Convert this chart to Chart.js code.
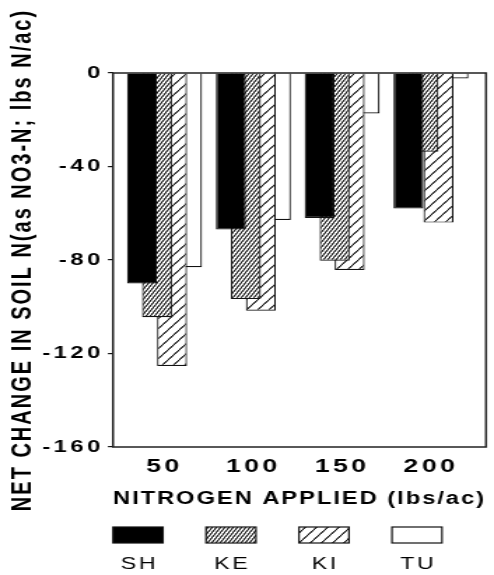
<!DOCTYPE html>
<html>
<head>
<meta charset="utf-8">
<script src="https://cdn.jsdelivr.net/npm/chart.js@4.4.1/dist/chart.umd.min.js"></script>
<style>
html,body{margin:0;padding:0;background:#fff;overflow:hidden;}
#wrap{width:353px;height:575px;transform:scaleX(1.399433);transform-origin:0 0;}
</style>
</head>
<body>
<div id="wrap"><canvas id="c"></canvas></div>
<script>
const categories = [50, 100, 150, 200];
const seriesNames = ['SH', 'KE', 'KI', 'TU'];
const shValues = [-90, -67, -62, -58];
const keValues = [-104.5, -96.7, -80.3, -33.7];
const kiValues = [-125.3, -101.7, -84.3, -64];
const tuValues = [-83.1, -62.9, -17.3, -2.3];
const yTickValues = [0, -40, -80, -120, -160];
const yTitle = 'NET CHANGE IN SOIL N(as NO3-N; lbs N/ac)';
const xTitle = 'NITROGEN APPLIED (lbs/ac)';

const FONT = "'Liberation Sans', Arial, Helvetica, sans-serif";
const SPACING = {'20': 2, '17': 2.5, '19': 2.5, '18': 1.5, '16.5': 2};

const canvas = document.getElementById('c');
const ctx = canvas.getContext('2d');
const fontDesc = Object.getOwnPropertyDescriptor(CanvasRenderingContext2D.prototype, 'font');
Object.defineProperty(ctx, 'font', {
  configurable: true,
  get() { return fontDesc.get.call(this); },
  set(v) {
    fontDesc.set.call(this, v);
    const m = /(\d+(?:\.\d+)?)px/.exec(v);
    const sp = m ? SPACING[m[1]] : 0;
    try { this.letterSpacing = (sp || 0) + 'px'; } catch (e) {}
  }
});

function hatch(w, h, lw) {
  const c = document.createElement('canvas');
  c.width = w; c.height = h;
  const g = c.getContext('2d');
  g.fillStyle = '#fff';
  g.fillRect(0, 0, w, h);
  g.strokeStyle = '#111';
  g.lineWidth = lw;
  for (let k = -1; k <= 1; k++) {
    g.beginPath();
    g.moveTo(k * w, h);
    g.lineTo(k * w + w, 0);
    g.stroke();
    g.beginPath();
    g.moveTo(k * w - w, h);
    g.lineTo(k * w, 0);
    g.stroke();
  }
  return ctx.createPattern(c, 'repeat');
}

const fills = ['#000', hatch(3, 5, 0.9), hatch(8, 10, 1), '#fff'];
const seriesValues = [shValues, keValues, kiValues, tuValues];

const datasets = seriesNames.map((name, i) => ({
  label: name,
  data: categories.map((c, j) => ({x: c, y: seriesValues[i][j]})),
  backgroundColor: fills[i],
  borderColor: '#111',
  borderWidth: 1.2,
  categoryPercentage: 0.6757,
  barPercentage: 2
}));

const boxPlugin = {
  id: 'box',
  afterDatasetsDraw(chart) {
    const {ctx, chartArea: a} = chart;
    ctx.save();
    ctx.strokeStyle = '#222';
    ctx.lineWidth = 1.5;
    ctx.strokeRect(a.left, a.top, a.right - a.left, a.bottom - a.top);
    ctx.restore();
  }
};

const legendPlugin = {
  id: 'boxLegend',
  afterDraw(chart) {
    const {ctx, chartArea: a} = chart;
    const aw = a.right - a.left;
    const step = aw * 0.2493;
    const bw = aw * 0.134;
    const by = a.bottom + 80;
    const bh = 16;
    ctx.save();
    chart.data.datasets.forEach((ds, i) => {
      const x = a.left + i * step;
      ctx.fillStyle = ds.backgroundColor;
      ctx.fillRect(x, by, bw, bh);
      ctx.strokeStyle = '#111';
      ctx.lineWidth = 1.2;
      ctx.strokeRect(x, by, bw, bh);
      ctx.fillStyle = '#000';
      ctx.font = 'normal 16.5px ' + FONT;
      ctx.textAlign = 'center';
      ctx.textBaseline = 'middle';
      ctx.fillText(ds.label, x + bw / 2 + 1, a.bottom + 117);
    });
    ctx.restore();
  }
};

new Chart(ctx, {
  type: 'bar',
  data: {datasets},
  plugins: [boxPlugin, legendPlugin],
  options: {
    responsive: true,
    maintainAspectRatio: false,
    animation: false,
    layout: {padding: {top: 73, bottom: 65, left: 0, right: 5.71}},
    plugins: {legend: {display: false}, tooltip: {enabled: false}},
    scales: {
      x: {
        type: 'linear',
        offset: false,
        min: 21,
        max: 231,
        afterBuildTicks: s => { s.ticks = categories.map(v => ({value: v})); },
        afterFit: s => { s.height = 63; },
        grid: {display: true, offset: false, drawOnChartArea: false, drawTicks: false},
        border: {display: false},
        ticks: {
          color: '#000',
          padding: 8,
          maxRotation: 0,
          autoSkip: false,
          font: {family: FONT, size: 19, weight: 'bold'},
          callback: v => String(v)
        },
        title: {
          display: true,
          text: xTitle,
          color: '#000',
          padding: {top: 0, bottom: 0.5},
          font: {family: FONT, size: 18, weight: 'bold'}
        }
      },
      y: {
        type: 'linear',
        min: -160,
        max: 0,
        afterBuildTicks: s => { s.ticks = yTickValues.map(v => ({value: v})); },
        afterFit: s => { s.width = 80.75; },
        grid: {display: true, drawOnChartArea: false, drawTicks: true, tickLength: 3.6, color: '#111', lineWidth: 1.2},
        border: {display: false},
        ticks: {
          color: '#000',
          padding: 3,
          autoSkip: false,
          font: {family: FONT, size: 17, weight: 'bold'},
          callback: v => String(v)
        },
        title: {
          display: true,
          text: yTitle,
          color: '#000',
          padding: {top: 4.4, bottom: 0},
          font: {family: FONT, size: 20, weight: 'bold'}
        }
      }
    }
  }
});
</script>
</body>
</html>
